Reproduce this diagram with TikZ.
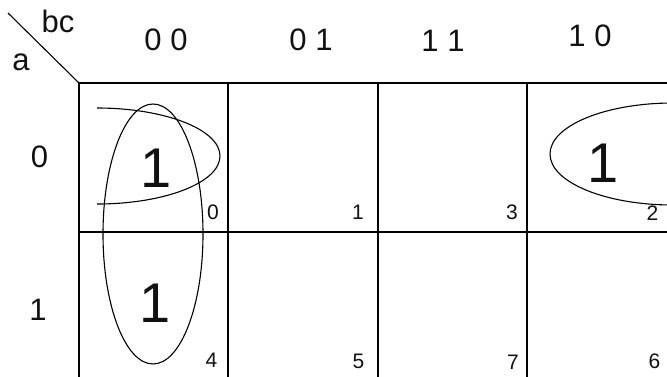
\documentclass[tikz,border=0pt]{standalone}
\usepackage{fontspec}
\setmainfont{Liberation Sans}
\usetikzlibrary{positioning}
\definecolor{ink}{HTML}{000000}
\definecolor{textink}{HTML}{111111}
\tikzset{
  gridline/.style={draw=ink,line width=1.3pt},
  loopline/.style={draw=ink,line width=1.1pt},
  varlabel/.style={font=\fontsize{31}{31}\selectfont,text=textink,inner sep=0pt,anchor=base},
  bigone/.style={font=\fontsize{56}{56}\selectfont,text=textink,inner sep=0pt,anchor=base},
  cellidx/.style={font=\fontsize{21}{21}\selectfont,text=textink,inner sep=0pt,anchor=base},
}
\begin{document}
\begin{tikzpicture}[x=1pt,y=-1pt]
  \useasboundingbox (0,0) rectangle (667,376);
  \clip (0,0) rectangle (667,376);
  % map grid (right and bottom edge run off the picture)
  \foreach \gx in {79,228,378,527,676}
    \draw[gridline] (\gx,83) -- (\gx,400);
  \foreach \gy in {83,232}
    \draw[gridline] (79,\gy) -- (700,\gy);
  \coordinate (corner) at (79,83);
  \coordinate (slashtop) at (8,13);
  \draw[gridline,line width=1.1pt] (slashtop) -- (corner);
  % variable names and gray-code headers
  \node[varlabel] (bc) at (58,32) {bc};
  \node[varlabel] (a) at (21,70) {a};
  \node[varlabel] (h00) at (166,50) {0 0};
  \node[varlabel] (h01) at (311,50) {0 1};
  \node[varlabel] (h11) at (443,51) {1 1};
  \node[varlabel] (h10) at (590,46) {1 0};
  \node[varlabel] (r0) at (39.5,167) {0};
  \node[varlabel] (r1) at (38,320) {1};
  % minterm indices
  \foreach \mx/\my/\mi in {213/219/0,358/219/1,512/219/3,652.5/220/2,
                           211.5/367/4,358.5/368/5,513/369/7,654.5/368/6}
    \node[cellidx] (m\mi) at (\mx,\my) {\mi};
  % the ones
  \node[bigone] (one0) at (156,187) {1};
  \node[bigone] (one4) at (155,322) {1};
  \node[bigone] (one2) at (603.5,182) {1};
  % groupings
  \draw[loopline] (153,234) ellipse[x radius=50,y radius=130];
  \draw[loopline] (97,108) arc[start angle=-90,end angle=90,x radius=123,y radius=48];
  \draw[loopline] (673,154) ellipse[x radius=123,y radius=51];
\end{tikzpicture}
\end{document}
